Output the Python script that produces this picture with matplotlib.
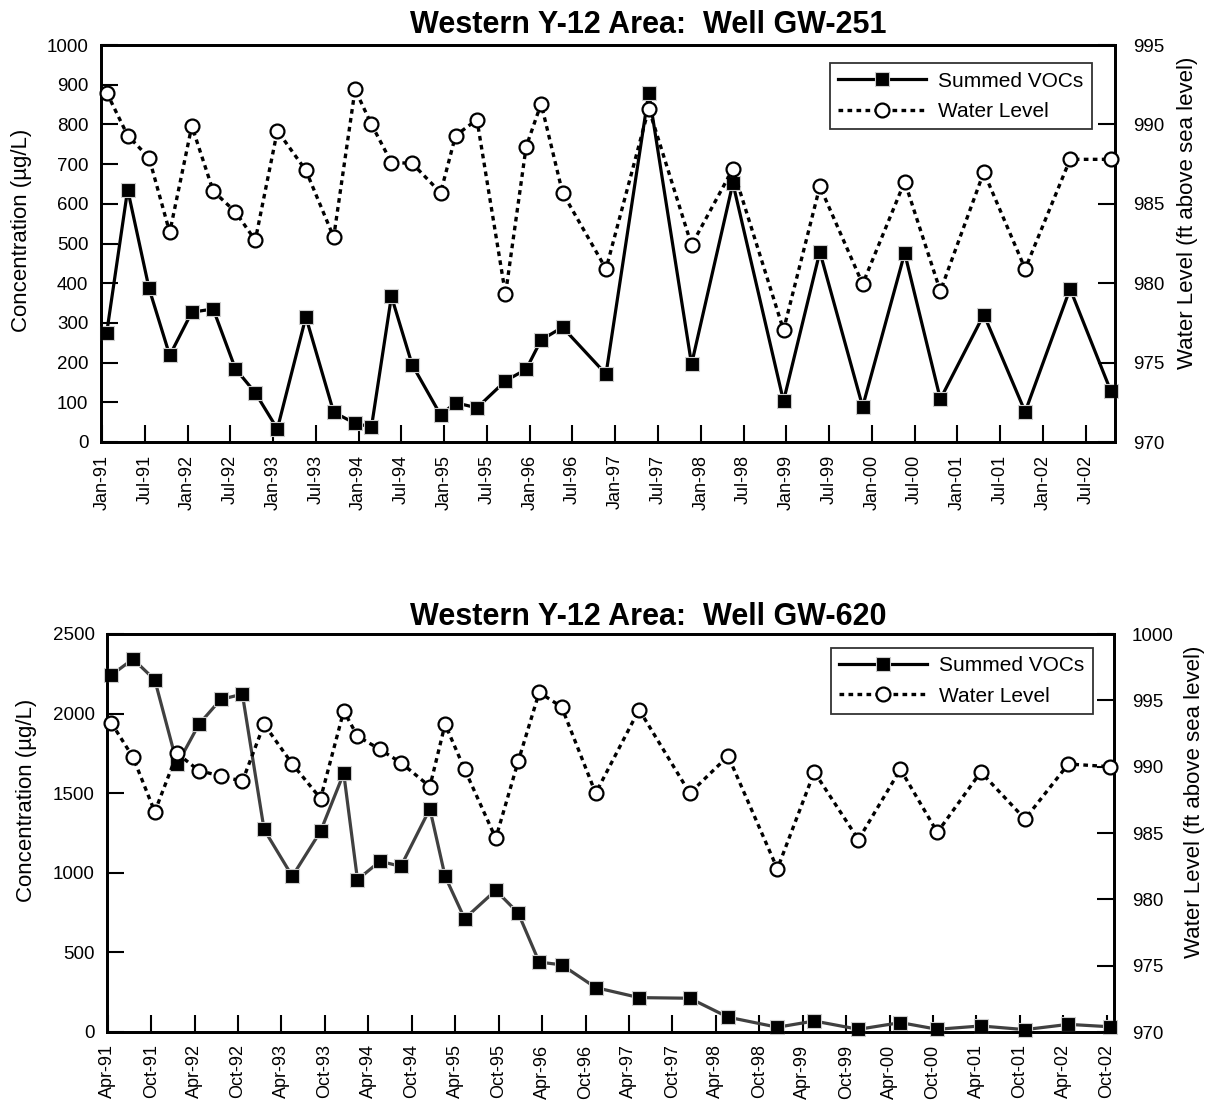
import matplotlib
matplotlib.use("Agg")
import matplotlib.pyplot as plt
from matplotlib.lines import Line2D

plt.rcParams['font.family'] = ['Liberation Sans', 'DejaVu Sans']

# ---------------- Well GW-251 (x = months since Jan-1991) ----------------
gw251_month = [0.66, 3.6, 6.6, 9.5, 12.6, 15.6, 18.7, 21.5, 24.6, 28.6, 32.5, 35.5,
               37.8, 40.6, 43.5, 47.5, 49.6, 52.6, 56.6, 59.5, 61.6, 64.6, 70.7,
               76.7, 82.7, 88.5, 95.6, 100.7, 106.7, 112.6, 117.6, 123.7, 129.5,
               135.8, 141.5]
gw251_voc = [275, 636, 387, 218, 327, 335, 185, 124, 33, 315, 75, 47, 38, 367, 195,
             68, 99, 86, 154, 183, 257, 289, 171, 880, 196, 652, 103, 479, 89, 476,
             108, 321, 76, 386, 129]
gw251_wl = [992.0, 989.3, 987.9, 983.2, 989.9, 985.8, 984.5, 982.7, 989.6, 987.1,
            982.9, 992.2, 990.0, 987.6, 987.55, 985.7, 989.3, 990.3, 979.3, 988.6,
            991.3, 985.7, 980.9, 991.0, 982.4, 987.2, 977.05, 986.1, 979.95, 986.4,
            979.5, 987.0, 980.9, 987.8, 987.8]
gw251_ticklabels = ['Jan-91', 'Jul-91', 'Jan-92', 'Jul-92', 'Jan-93', 'Jul-93',
                    'Jan-94', 'Jul-94', 'Jan-95', 'Jul-95', 'Jan-96', 'Jul-96',
                    'Jan-97', 'Jul-97', 'Jan-98', 'Jul-98', 'Jan-99', 'Jul-99',
                    'Jan-00', 'Jul-00', 'Jan-01', 'Jul-01', 'Jan-02', 'Jul-02']

# ---------------- Well GW-620 (x = months since Apr-1991) ----------------
gw620_month = [0.5, 3.5, 6.5, 9.6, 12.6, 15.6, 18.6, 21.6, 25.5, 29.4, 32.6, 34.5,
               37.6, 40.5, 44.5, 46.6, 49.3, 53.6, 56.7, 59.6, 62.7, 67.4, 73.4,
               80.4, 85.7, 92.5, 97.6, 103.7, 109.5, 114.6, 120.6, 126.7, 132.7,
               138.4]
gw620_voc = [2242, 2343, 2212, 1681, 1933, 2089, 2122, 1272, 978, 1261, 1625, 957,
             1072, 1041, 1402, 978, 712, 890, 747, 439, 422, 279, 216, 212, 93, 30,
             69, 17, 59, 17, 38, 15, 48, 33]
gw620_wl = [993.3, 990.7, 986.6, 991.0, 989.7, 989.3, 988.9, 993.2, 990.2, 987.6,
            994.2, 992.3, 991.3, 990.3, 988.5, 993.2, 989.8, 984.6, 990.4, 995.6,
            994.5, 988.0, 994.3, 988.0, 990.8, 982.3, 989.6, 984.5, 989.8, 985.05,
            989.6, 986.05, 990.2, 990.0]
gw620_ticklabels = ['Apr-91', 'Oct-91', 'Apr-92', 'Oct-92', 'Apr-93', 'Oct-93',
                    'Apr-94', 'Oct-94', 'Apr-95', 'Oct-95', 'Apr-96', 'Oct-96',
                    'Apr-97', 'Oct-97', 'Apr-98', 'Oct-98', 'Apr-99', 'Oct-99',
                    'Apr-00', 'Oct-00', 'Apr-01', 'Oct-01', 'Apr-02', 'Oct-02']

W, H = 1206, 1111
fig = plt.figure(figsize=(W / 100, H / 100), dpi=100)


def px_axes(l, r, t, b):
    return [l / W, 1 - b / H, (r - l) / W, (b - t) / H]


def make_panel(rect, months, voc, wl, ticklabels, xlim, ylim, yticks, y2lim, y2ticks,
               title, title_y, voc_color, leg_anchor, ylab_pos, y2lab_pos):
    ax = fig.add_axes(rect)
    ax2 = ax.twinx()
    ax.plot(months, voc, '-', color=voc_color, lw=2.3, marker='s', ms=9.5,
            mfc='black', mec='#cccccc', mew=0.8, clip_on=False, zorder=3)
    ax2.plot(months, wl, color='black', lw=2.4, linestyle=(0, (1.4, 1.3)),
             marker='o', ms=10, mfc='white', mec='black', mew=1.6, clip_on=False,
             zorder=3)
    ax.set_xlim(*xlim)
    ax.set_ylim(*ylim)
    ax2.set_ylim(*y2lim)
    ax.set_xticks(range(0, 6 * len(ticklabels), 6))
    ax.set_xticklabels(ticklabels, rotation=90, fontsize=13)
    ax.set_yticks(yticks)
    ax.set_yticklabels([str(v) for v in yticks], fontsize=13.5)
    ax2.set_yticks(y2ticks)
    ax2.set_yticklabels([str(v) for v in y2ticks], fontsize=13.5)
    ax.tick_params(axis='x', direction='in', length=12, width=1.5, pad=9)
    ax.tick_params(axis='y', direction='in', length=12, width=1.5, pad=9)
    ax2.tick_params(axis='y', direction='in', length=12, width=1.5, pad=13)
    for a in (ax, ax2):
        for s in a.spines.values():
            s.set_linewidth(2)
    ax.set_ylabel('Concentration (\u00b5g/L)', fontsize=16)
    ax.yaxis.set_label_coords(*ylab_pos)
    ax2.set_ylabel('Water Level (ft above sea level)', fontsize=16)
    ax2.yaxis.set_label_coords(*y2lab_pos)
    fig.text(648 / W, 1 - title_y / H, title, fontsize=22, fontweight='bold',
             ha='center', va='center')
    handles = [
        Line2D([], [], color='black', lw=2.3, marker='s', ms=9.5, mfc='black',
               mec='#cccccc', mew=0.8),
        Line2D([], [], color='black', lw=2.4, linestyle=(0, (1.4, 1.3)), marker='o',
               ms=10, mfc='white', mec='black', mew=1.6),
    ]
    leg = ax2.legend(handles, ['Summed VOCs', 'Water Level'], loc='upper right',
                     bbox_to_anchor=leg_anchor, borderaxespad=0, fontsize=15,
                     frameon=True, fancybox=False, handlelength=4.2,
                     handletextpad=0.6, borderpad=0.4, labelspacing=0.55)
    leg.get_frame().set_edgecolor('black')
    leg.get_frame().set_linewidth(1.3)
    return ax, ax2


make_panel(px_axes(101, 1115, 45, 442), gw251_month, gw251_voc, gw251_wl,
           gw251_ticklabels, (-0.14, 142.1), (0, 1000), list(range(0, 1001, 100)),
           (970, 995), list(range(970, 996, 5)),
           'Western Y-12 Area:  Well GW-251', 25, 'black',
           (0.977, 0.954), (-0.068, 0.534), (1.061, 0.577))

make_panel(px_axes(107, 1114, 634, 1032), gw620_month, gw620_voc, gw620_wl,
           gw620_ticklabels, (-0.1, 139.0), (0, 2500), list(range(0, 2501, 500)),
           (970, 1000), list(range(970, 1001, 5)),
           'Western Y-12 Area:  Well GW-620', 617, '#404040',
           (0.979, 0.965), (-0.07, 0.583), (1.070, 0.578))

fig.savefig('out.png', dpi=100)
